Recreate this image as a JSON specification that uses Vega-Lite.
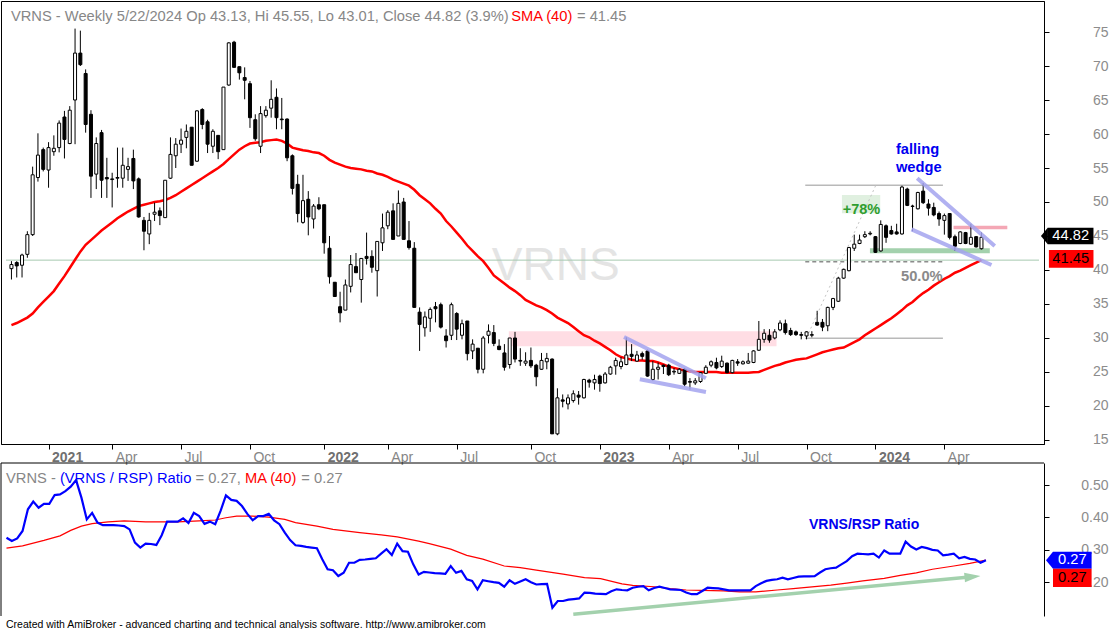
{
  "$schema": "https://vega.github.io/schema/vega-lite/v6.json",
  "padding": 0,
  "background": "white",
  "bounds": "flush",
  "spacing": 19,
  "title": {"text": "Created with AmiBroker - advanced charting and technical analysis software. http://www.amibroker.com", "orient": "bottom", "anchor": "start", "frame": "group", "font": "Liberation Sans", "fontSize": 10.5, "fontWeight": "normal", "color": "black", "offset": 3, "dx": 5},
  "datasets": {
    "bars": [
      {"d":"2020-11-16","o":40.2,"h":41.3,"l":38.6,"c":40.8,"s":31.9,"r":0.337},
      {"d":"2020-11-23","o":41.1,"h":41.3,"l":38.9,"c":40.6,"s":32.2,"r":0.327},
      {"d":"2020-11-30","o":40.7,"h":42.4,"l":38.9,"c":42.2,"s":32.6,"r":0.335},
      {"d":"2020-12-07","o":42.3,"h":45.7,"l":41.8,"c":45.2,"s":33.0,"r":0.358},
      {"d":"2020-12-14","o":45.2,"h":55.2,"l":45.0,"c":54.0,"s":33.6,"r":0.425},
      {"d":"2020-12-21","o":53.6,"h":60.1,"l":53.0,"c":56.9,"s":34.5,"r":0.449},
      {"d":"2020-12-28","o":57.7,"h":58.0,"l":54.5,"c":54.8,"s":35.3,"r":0.430},
      {"d":"2021-01-04","o":54.7,"h":58.8,"l":52.1,"c":58.0,"s":36.1,"r":0.442},
      {"d":"2021-01-11","o":57.4,"h":59.8,"l":56.8,"c":57.9,"s":36.9,"r":0.442},
      {"d":"2021-01-18","o":58.0,"h":62.0,"l":57.3,"c":61.6,"s":38.0,"r":0.469},
      {"d":"2021-01-25","o":62.5,"h":63.4,"l":56.4,"c":59.2,"s":39.1,"r":0.471},
      {"d":"2021-02-01","o":58.6,"h":64.1,"l":58.5,"c":63.5,"s":40.3,"r":0.481},
      {"d":"2021-02-08","o":65.0,"h":75.5,"l":58.5,"c":71.9,"s":41.5,"r":0.495},
      {"d":"2021-02-15","o":71.9,"h":75.2,"l":70.0,"c":70.2,"s":42.7,"r":0.515},
      {"d":"2021-02-22","o":68.9,"h":69.5,"l":60.2,"c":61.4,"s":43.7,"r":0.461},
      {"d":"2021-03-01","o":62.9,"h":63.5,"l":50.6,"c":53.8,"s":44.4,"r":0.394},
      {"d":"2021-03-08","o":54.1,"h":59.5,"l":51.9,"c":58.6,"s":45.1,"r":0.414},
      {"d":"2021-03-15","o":60.2,"h":60.6,"l":50.6,"c":53.2,"s":45.8,"r":0.384},
      {"d":"2021-03-22","o":53.6,"h":56.5,"l":50.6,"c":53.4,"s":46.4,"r":0.376},
      {"d":"2021-03-29","o":53.3,"h":54.3,"l":49.2,"c":53.4,"s":47.0,"r":0.376},
      {"d":"2021-04-05","o":53.5,"h":58.0,"l":52.1,"c":53.6,"s":47.6,"r":0.376},
      {"d":"2021-04-12","o":53.5,"h":58.0,"l":52.1,"c":55.4,"s":48.1,"r":0.375},
      {"d":"2021-04-19","o":54.8,"h":56.5,"l":53.1,"c":55.2,"s":48.6,"r":0.373},
      {"d":"2021-04-26","o":56.4,"h":57.7,"l":51.9,"c":53.1,"s":49.0,"r":0.363},
      {"d":"2021-05-03","o":53.4,"h":53.6,"l":47.7,"c":47.8,"s":49.4,"r":0.322},
      {"d":"2021-05-10","o":47.3,"h":47.8,"l":42.9,"c":45.7,"s":49.6,"r":0.307},
      {"d":"2021-05-17","o":45.3,"h":48.4,"l":43.8,"c":47.3,"s":49.8,"r":0.319},
      {"d":"2021-05-24","o":48.2,"h":49.9,"l":47.2,"c":48.5,"s":50.0,"r":0.318},
      {"d":"2021-05-31","o":48.7,"h":49.2,"l":46.6,"c":48.0,"s":50.1,"r":0.315},
      {"d":"2021-06-07","o":47.7,"h":53.2,"l":47.7,"c":53.2,"s":50.3,"r":0.345},
      {"d":"2021-06-14","o":53.5,"h":59.5,"l":53.4,"c":57.0,"s":50.6,"r":0.387},
      {"d":"2021-06-21","o":56.8,"h":59.4,"l":55.0,"c":58.5,"s":51.0,"r":0.387},
      {"d":"2021-06-28","o":58.5,"h":60.8,"l":57.2,"c":59.1,"s":51.5,"r":0.387},
      {"d":"2021-07-05","o":59.5,"h":61.4,"l":57.9,"c":60.4,"s":52.0,"r":0.397},
      {"d":"2021-07-12","o":61.0,"h":61.0,"l":55.4,"c":55.4,"s":52.5,"r":0.383},
      {"d":"2021-07-19","o":56.0,"h":63.5,"l":55.9,"c":63.4,"s":53.0,"r":0.414},
      {"d":"2021-07-26","o":63.6,"h":63.8,"l":60.7,"c":61.4,"s":53.5,"r":0.404},
      {"d":"2021-08-02","o":61.8,"h":62.1,"l":57.2,"c":58.5,"s":54.0,"r":0.380},
      {"d":"2021-08-09","o":58.2,"h":60.7,"l":57.2,"c":60.4,"s":54.5,"r":0.387},
      {"d":"2021-08-16","o":59.8,"h":59.8,"l":56.3,"c":57.4,"s":55.0,"r":0.379},
      {"d":"2021-08-23","o":57.7,"h":66.9,"l":57.7,"c":66.9,"s":55.6,"r":0.420},
      {"d":"2021-08-30","o":67.2,"h":73.5,"l":67.1,"c":73.4,"s":56.3,"r":0.468},
      {"d":"2021-09-06","o":73.5,"h":73.7,"l":69.8,"c":69.8,"s":57.0,"r":0.454},
      {"d":"2021-09-13","o":69.9,"h":69.9,"l":68.0,"c":69.0,"s":57.7,"r":0.451},
      {"d":"2021-09-20","o":68.3,"h":69.8,"l":65.1,"c":67.9,"s":58.2,"r":0.435},
      {"d":"2021-09-27","o":67.4,"h":67.8,"l":60.9,"c":62.4,"s":58.6,"r":0.411},
      {"d":"2021-10-04","o":62.1,"h":62.9,"l":59.0,"c":59.3,"s":58.7,"r":0.391},
      {"d":"2021-10-11","o":58.2,"h":64.1,"l":57.2,"c":63.0,"s":58.8,"r":0.404},
      {"d":"2021-10-18","o":62.7,"h":64.1,"l":62.4,"c":63.5,"s":59.0,"r":0.404},
      {"d":"2021-10-25","o":63.8,"h":67.9,"l":62.4,"c":65.1,"s":59.1,"r":0.411},
      {"d":"2021-11-01","o":65.4,"h":66.7,"l":60.7,"c":62.4,"s":59.2,"r":0.391},
      {"d":"2021-11-08","o":62.2,"h":65.3,"l":60.7,"c":62.1,"s":59.0,"r":0.379},
      {"d":"2021-11-15","o":62.2,"h":62.3,"l":56.0,"c":56.5,"s":58.6,"r":0.353},
      {"d":"2021-11-22","o":56.8,"h":57.0,"l":51.1,"c":52.0,"s":58.0,"r":0.330},
      {"d":"2021-11-29","o":52.6,"h":54.0,"l":47.0,"c":48.3,"s":57.8,"r":0.314},
      {"d":"2021-12-06","o":47.0,"h":54.0,"l":46.8,"c":50.2,"s":57.6,"r":0.312},
      {"d":"2021-12-13","o":50.4,"h":51.6,"l":45.1,"c":47.8,"s":57.5,"r":0.309},
      {"d":"2021-12-20","o":47.5,"h":49.7,"l":46.1,"c":49.4,"s":57.3,"r":0.307},
      {"d":"2021-12-27","o":49.6,"h":50.7,"l":48.8,"c":49.0,"s":57.2,"r":0.305},
      {"d":"2022-01-03","o":49.6,"h":49.6,"l":42.4,"c":44.0,"s":56.8,"r":0.271},
      {"d":"2022-01-10","o":43.2,"h":45.0,"l":38.0,"c":39.0,"s":56.2,"r":0.240},
      {"d":"2022-01-17","o":38.2,"h":38.2,"l":36.1,"c":36.1,"s":55.8,"r":0.237},
      {"d":"2022-01-24","o":34.6,"h":36.8,"l":32.3,"c":33.7,"s":55.5,"r":0.219},
      {"d":"2022-01-31","o":34.1,"h":38.6,"l":34.1,"c":37.8,"s":55.2,"r":0.229},
      {"d":"2022-02-07","o":37.6,"h":42.2,"l":36.7,"c":40.8,"s":55.0,"r":0.260},
      {"d":"2022-02-14","o":40.5,"h":42.5,"l":39.6,"c":39.6,"s":54.9,"r":0.260},
      {"d":"2022-02-21","o":38.6,"h":41.7,"l":35.2,"c":41.7,"s":54.8,"r":0.269},
      {"d":"2022-02-28","o":42.0,"h":45.5,"l":40.8,"c":41.7,"s":54.6,"r":0.270},
      {"d":"2022-03-07","o":42.0,"h":42.9,"l":39.6,"c":40.4,"s":54.5,"r":0.272},
      {"d":"2022-03-14","o":39.9,"h":44.2,"l":36.1,"c":44.2,"s":54.2,"r":0.274},
      {"d":"2022-03-21","o":44.0,"h":48.3,"l":42.8,"c":46.2,"s":54.0,"r":0.288},
      {"d":"2022-03-28","o":46.5,"h":48.8,"l":46.0,"c":48.5,"s":53.7,"r":0.302},
      {"d":"2022-04-04","o":48.7,"h":49.8,"l":44.5,"c":44.5,"s":53.3,"r":0.284},
      {"d":"2022-04-11","o":45.0,"h":51.7,"l":45.0,"c":49.8,"s":53.0,"r":0.319},
      {"d":"2022-04-18","o":50.0,"h":50.6,"l":44.5,"c":44.5,"s":52.7,"r":0.296},
      {"d":"2022-04-25","o":44.3,"h":47.2,"l":43.0,"c":43.3,"s":52.4,"r":0.294},
      {"d":"2022-05-02","o":43.2,"h":44.1,"l":34.5,"c":34.5,"s":51.8,"r":0.255},
      {"d":"2022-05-09","o":33.8,"h":34.5,"l":28.1,"c":32.0,"s":51.0,"r":0.224},
      {"d":"2022-05-16","o":31.5,"h":33.9,"l":30.2,"c":33.1,"s":50.4,"r":0.232},
      {"d":"2022-05-23","o":32.9,"h":34.5,"l":30.9,"c":34.2,"s":49.8,"r":0.230},
      {"d":"2022-05-30","o":34.6,"h":35.3,"l":32.3,"c":34.3,"s":49.0,"r":0.228},
      {"d":"2022-06-06","o":34.9,"h":35.2,"l":31.4,"c":31.6,"s":48.3,"r":0.227},
      {"d":"2022-06-13","o":30.3,"h":31.3,"l":28.6,"c":29.6,"s":47.2,"r":0.226},
      {"d":"2022-06-20","o":30.4,"h":35.2,"l":29.7,"c":34.9,"s":46.4,"r":0.250},
      {"d":"2022-06-27","o":33.6,"h":33.8,"l":29.7,"c":31.3,"s":45.5,"r":0.229},
      {"d":"2022-07-04","o":30.4,"h":32.7,"l":29.8,"c":32.1,"s":44.6,"r":0.235},
      {"d":"2022-07-11","o":32.5,"h":32.5,"l":26.7,"c":27.7,"s":43.6,"r":0.209},
      {"d":"2022-07-18","o":28.1,"h":29.8,"l":26.9,"c":29.1,"s":42.8,"r":0.204},
      {"d":"2022-07-25","o":28.5,"h":28.5,"l":24.8,"c":25.4,"s":42.0,"r":0.178},
      {"d":"2022-08-01","o":25.4,"h":30.3,"l":24.8,"c":30.0,"s":41.3,"r":0.206},
      {"d":"2022-08-08","o":30.4,"h":32.0,"l":29.2,"c":31.0,"s":40.3,"r":0.203},
      {"d":"2022-08-15","o":30.8,"h":31.9,"l":28.8,"c":29.2,"s":39.2,"r":0.200},
      {"d":"2022-08-22","o":28.8,"h":29.8,"l":28.2,"c":28.3,"s":38.6,"r":0.198},
      {"d":"2022-08-29","o":27.8,"h":29.1,"l":25.2,"c":25.7,"s":38.0,"r":0.186},
      {"d":"2022-09-05","o":26.1,"h":30.0,"l":25.5,"c":30.0,"s":37.4,"r":0.206},
      {"d":"2022-09-12","o":30.0,"h":30.9,"l":26.4,"c":26.9,"s":36.9,"r":0.195},
      {"d":"2022-09-19","o":26.7,"h":28.5,"l":25.9,"c":26.6,"s":36.3,"r":0.202},
      {"d":"2022-09-26","o":26.3,"h":27.9,"l":25.9,"c":26.6,"s":35.6,"r":0.209},
      {"d":"2022-10-03","o":26.7,"h":28.6,"l":25.6,"c":25.9,"s":35.2,"r":0.200},
      {"d":"2022-10-10","o":26.0,"h":26.2,"l":22.9,"c":24.3,"s":34.8,"r":0.193},
      {"d":"2022-10-17","o":25.4,"h":27.8,"l":25.3,"c":26.7,"s":34.5,"r":0.194},
      {"d":"2022-10-24","o":26.5,"h":27.8,"l":25.4,"c":27.0,"s":34.1,"r":0.195},
      {"d":"2022-10-31","o":26.9,"h":27.0,"l":15.9,"c":15.9,"s":33.6,"r":0.121},
      {"d":"2022-11-07","o":15.9,"h":22.6,"l":15.7,"c":21.2,"s":33.0,"r":0.142},
      {"d":"2022-11-14","o":20.9,"h":21.7,"l":19.8,"c":20.7,"s":32.6,"r":0.142},
      {"d":"2022-11-21","o":20.3,"h":21.7,"l":19.5,"c":21.2,"s":32.2,"r":0.146},
      {"d":"2022-11-28","o":20.8,"h":22.3,"l":20.5,"c":21.8,"s":31.6,"r":0.148},
      {"d":"2022-12-05","o":21.6,"h":22.2,"l":20.2,"c":21.3,"s":31.0,"r":0.150},
      {"d":"2022-12-12","o":21.2,"h":24.0,"l":21.1,"c":23.9,"s":30.4,"r":0.168},
      {"d":"2022-12-19","o":23.8,"h":24.0,"l":22.7,"c":23.5,"s":30.1,"r":0.167},
      {"d":"2022-12-26","o":23.4,"h":24.6,"l":22.4,"c":23.9,"s":29.6,"r":0.165},
      {"d":"2023-01-02","o":24.4,"h":24.6,"l":22.1,"c":23.3,"s":29.2,"r":0.164},
      {"d":"2023-01-09","o":23.4,"h":25.0,"l":23.3,"c":24.7,"s":28.7,"r":0.163},
      {"d":"2023-01-16","o":24.7,"h":25.9,"l":24.6,"c":25.7,"s":28.2,"r":0.172},
      {"d":"2023-01-23","o":25.9,"h":27.1,"l":24.6,"c":26.7,"s":27.6,"r":0.178},
      {"d":"2023-01-30","o":25.8,"h":27.2,"l":25.4,"c":26.5,"s":27.2,"r":0.176},
      {"d":"2023-02-06","o":26.1,"h":30.1,"l":26.0,"c":27.5,"s":27.0,"r":0.175},
      {"d":"2023-02-13","o":27.6,"h":29.1,"l":26.6,"c":27.3,"s":26.8,"r":0.183},
      {"d":"2023-02-20","o":26.6,"h":28.1,"l":26.5,"c":27.5,"s":26.7,"r":0.186},
      {"d":"2023-02-27","o":27.7,"h":28.0,"l":26.8,"c":27.3,"s":26.7,"r":0.188},
      {"d":"2023-03-06","o":28.1,"h":28.3,"l":24.3,"c":24.4,"s":26.6,"r":0.175},
      {"d":"2023-03-13","o":23.9,"h":26.6,"l":23.7,"c":25.4,"s":26.6,"r":0.182},
      {"d":"2023-03-20","o":25.4,"h":26.4,"l":23.9,"c":25.7,"s":26.4,"r":0.186},
      {"d":"2023-03-27","o":26.0,"h":26.1,"l":24.7,"c":25.8,"s":26.1,"r":0.182},
      {"d":"2023-04-03","o":26.0,"h":26.2,"l":24.4,"c":24.6,"s":25.8,"r":0.178},
      {"d":"2023-04-10","o":25.0,"h":25.6,"l":24.6,"c":25.1,"s":25.6,"r":0.177},
      {"d":"2023-04-17","o":24.8,"h":25.6,"l":24.7,"c":25.4,"s":25.4,"r":0.176},
      {"d":"2023-04-24","o":25.4,"h":25.6,"l":22.9,"c":23.2,"s":25.2,"r":0.168},
      {"d":"2023-05-01","o":23.6,"h":24.1,"l":22.4,"c":23.5,"s":25.1,"r":0.163},
      {"d":"2023-05-08","o":23.4,"h":24.1,"l":23.1,"c":23.7,"s":25.0,"r":0.163},
      {"d":"2023-05-15","o":23.6,"h":25.0,"l":23.4,"c":24.9,"s":25.0,"r":0.173},
      {"d":"2023-05-22","o":24.8,"h":26.0,"l":24.7,"c":25.7,"s":25.0,"r":0.183},
      {"d":"2023-05-29","o":26.0,"h":26.7,"l":25.7,"c":26.5,"s":25.0,"r":0.182},
      {"d":"2023-06-05","o":26.4,"h":27.1,"l":25.4,"c":25.6,"s":25.0,"r":0.181},
      {"d":"2023-06-12","o":25.8,"h":27.4,"l":25.6,"c":26.6,"s":24.9,"r":0.178},
      {"d":"2023-06-19","o":26.3,"h":26.4,"l":24.8,"c":24.9,"s":24.9,"r":0.175},
      {"d":"2023-06-26","o":24.9,"h":26.8,"l":24.8,"c":26.7,"s":24.9,"r":0.175},
      {"d":"2023-07-03","o":26.5,"h":26.9,"l":25.9,"c":26.3,"s":24.9,"r":0.175},
      {"d":"2023-07-10","o":26.2,"h":26.7,"l":26.1,"c":26.5,"s":24.9,"r":0.175},
      {"d":"2023-07-17","o":26.3,"h":27.8,"l":26.2,"c":26.6,"s":24.9,"r":0.175},
      {"d":"2023-07-24","o":26.4,"h":28.2,"l":26.3,"c":28.1,"s":24.95,"r":0.188},
      {"d":"2023-07-31","o":28.2,"h":32.5,"l":28.1,"c":29.8,"s":25.0,"r":0.197},
      {"d":"2023-08-07","o":29.8,"h":31.3,"l":29.3,"c":30.7,"s":25.3,"r":0.204},
      {"d":"2023-08-14","o":30.4,"h":31.3,"l":29.3,"c":29.7,"s":25.6,"r":0.207},
      {"d":"2023-08-21","o":30.0,"h":31.3,"l":29.8,"c":30.9,"s":25.9,"r":0.209},
      {"d":"2023-08-28","o":31.2,"h":32.6,"l":31.0,"c":32.2,"s":26.1,"r":0.214},
      {"d":"2023-09-04","o":32.1,"h":32.7,"l":30.5,"c":30.8,"s":26.4,"r":0.209},
      {"d":"2023-09-11","o":31.1,"h":31.5,"l":30.3,"c":30.5,"s":26.6,"r":0.213},
      {"d":"2023-09-18","o":30.9,"h":31.1,"l":30.3,"c":30.5,"s":26.8,"r":0.217},
      {"d":"2023-09-25","o":30.5,"h":30.9,"l":29.8,"c":30.4,"s":26.9,"r":0.218},
      {"d":"2023-10-02","o":30.3,"h":31.0,"l":29.8,"c":30.9,"s":27.0,"r":0.218},
      {"d":"2023-10-09","o":30.4,"h":31.0,"l":30.1,"c":30.5,"s":27.3,"r":0.219},
      {"d":"2023-10-16","o":32.3,"h":34.0,"l":31.8,"c":31.9,"s":27.6,"r":0.230},
      {"d":"2023-10-23","o":32.3,"h":32.8,"l":31.0,"c":31.6,"s":27.9,"r":0.240},
      {"d":"2023-10-30","o":31.8,"h":34.6,"l":31.0,"c":34.5,"s":28.1,"r":0.243},
      {"d":"2023-11-06","o":34.5,"h":35.9,"l":34.1,"c":35.8,"s":28.3,"r":0.245},
      {"d":"2023-11-13","o":35.4,"h":39.0,"l":35.3,"c":38.8,"s":28.5,"r":0.255},
      {"d":"2023-11-20","o":38.8,"h":40.2,"l":38.7,"c":40.1,"s":28.6,"r":0.265},
      {"d":"2023-11-27","o":39.9,"h":43.4,"l":39.8,"c":43.3,"s":29.0,"r":0.280},
      {"d":"2023-12-04","o":43.2,"h":45.2,"l":42.8,"c":43.8,"s":29.4,"r":0.288},
      {"d":"2023-12-11","o":43.9,"h":45.2,"l":43.8,"c":44.4,"s":29.8,"r":0.287},
      {"d":"2023-12-18","o":44.9,"h":45.7,"l":44.7,"c":45.2,"s":30.4,"r":0.286},
      {"d":"2023-12-25","o":45.3,"h":45.7,"l":45.1,"c":45.4,"s":30.9,"r":0.288},
      {"d":"2024-01-01","o":44.9,"h":45.0,"l":42.5,"c":42.6,"s":31.4,"r":0.276},
      {"d":"2024-01-08","o":42.8,"h":47.3,"l":42.7,"c":46.7,"s":31.9,"r":0.298},
      {"d":"2024-01-15","o":46.5,"h":46.7,"l":44.0,"c":44.8,"s":32.4,"r":0.288},
      {"d":"2024-01-22","o":45.8,"h":46.5,"l":45.2,"c":45.3,"s":32.9,"r":0.288},
      {"d":"2024-01-29","o":45.6,"h":46.8,"l":45.2,"c":45.3,"s":33.5,"r":0.288},
      {"d":"2024-02-05","o":45.3,"h":52.4,"l":45.2,"c":52.2,"s":34.1,"r":0.325},
      {"d":"2024-02-12","o":51.9,"h":52.1,"l":49.4,"c":49.5,"s":34.8,"r":0.310},
      {"d":"2024-02-19","o":49.4,"h":49.6,"l":45.7,"c":49.35,"s":35.3,"r":0.301},
      {"d":"2024-02-26","o":49.0,"h":51.5,"l":48.9,"c":51.4,"s":36.0,"r":0.309},
      {"d":"2024-03-04","o":51.6,"h":52.8,"l":49.7,"c":49.9,"s":36.6,"r":0.305},
      {"d":"2024-03-11","o":49.7,"h":50.4,"l":48.0,"c":49.1,"s":37.1,"r":0.300},
      {"d":"2024-03-18","o":49.2,"h":49.9,"l":47.9,"c":48.1,"s":37.7,"r":0.298},
      {"d":"2024-03-25","o":48.3,"h":48.6,"l":46.5,"c":47.5,"s":38.2,"r":0.283},
      {"d":"2024-04-01","o":47.3,"h":48.3,"l":45.2,"c":48.0,"s":38.7,"r":0.285},
      {"d":"2024-04-08","o":48.3,"h":48.3,"l":44.5,"c":44.8,"s":39.1,"r":0.288},
      {"d":"2024-04-15","o":44.9,"h":45.2,"l":42.8,"c":43.5,"s":39.6,"r":0.274},
      {"d":"2024-04-22","o":43.9,"h":45.7,"l":43.8,"c":45.6,"s":39.9,"r":0.278},
      {"d":"2024-04-29","o":45.5,"h":45.6,"l":43.8,"c":43.9,"s":40.3,"r":0.272},
      {"d":"2024-05-06","o":43.8,"h":46.8,"l":43.7,"c":44.8,"s":40.7,"r":0.270},
      {"d":"2024-05-13","o":44.9,"h":45.0,"l":43.3,"c":43.4,"s":41.1,"r":0.260},
      {"d":"2024-05-20","o":43.13,"h":45.55,"l":43.01,"c":44.82,"s":41.45,"r":0.268}
    ],
    "rma": [
      {"d":"2020-11-16","p":0.305},{"d":"2020-12-07","p":0.312},{"d":"2021-01-04","p":0.329},{"d":"2021-01-25","p":0.343},
      {"d":"2021-02-08","p":0.360},{"d":"2021-02-22","p":0.373},{"d":"2021-03-08","p":0.381},{"d":"2021-03-29","p":0.386},
      {"d":"2021-04-19","p":0.389},{"d":"2021-05-17","p":0.386},{"d":"2021-06-07","p":0.386},{"d":"2021-06-28","p":0.386},
      {"d":"2021-07-26","p":0.389},{"d":"2021-08-16","p":0.392},{"d":"2021-08-30","p":0.399},{"d":"2021-09-13","p":0.404},
      {"d":"2021-10-04","p":0.404},{"d":"2021-10-25","p":0.401},{"d":"2021-11-15","p":0.394},{"d":"2021-11-29","p":0.384},
      {"d":"2021-12-27","p":0.373},{"d":"2022-01-17","p":0.363},{"d":"2022-02-21","p":0.353},{"d":"2022-03-21","p":0.346},
      {"d":"2022-04-11","p":0.340},{"d":"2022-05-09","p":0.327},{"d":"2022-05-23","p":0.319},{"d":"2022-06-20","p":0.302},
      {"d":"2022-07-11","p":0.283},{"d":"2022-08-01","p":0.271},{"d":"2022-08-29","p":0.250},{"d":"2022-09-19","p":0.245},
      {"d":"2022-10-10","p":0.237},{"d":"2022-11-14","p":0.225},{"d":"2022-12-12","p":0.214},{"d":"2023-01-02","p":0.211},
      {"d":"2023-01-30","p":0.195},{"d":"2023-02-13","p":0.190},{"d":"2023-03-13","p":0.186},{"d":"2023-04-03","p":0.180},
      {"d":"2023-04-24","p":0.176},{"d":"2023-05-15","p":0.175},{"d":"2023-06-12","p":0.173},{"d":"2023-07-03","p":0.170},
      {"d":"2023-07-24","p":0.170},{"d":"2023-08-21","p":0.176},{"d":"2023-09-11","p":0.180},{"d":"2023-10-02","p":0.185},
      {"d":"2023-10-30","p":0.191},{"d":"2023-11-20","p":0.197},{"d":"2023-12-11","p":0.204},{"d":"2024-01-08","p":0.212},
      {"d":"2024-01-29","p":0.221},{"d":"2024-02-19","p":0.229},{"d":"2024-03-11","p":0.240},{"d":"2024-04-08","p":0.250},
      {"d":"2024-04-29","p":0.258},{"d":"2024-05-20","p":0.268}
    ]
  },
  "vconcat": [
    {
      "width": 1043,
      "height": 443,
      "encoding": {
        "x": {
          "field": "d", "type": "temporal",
          "scale": {"domain": [{"year": 2020, "month": 11, "date": 8, "hours": 19, "minutes": 26}, {"year": 2024, "month": 8, "date": 3, "hours": 23, "minutes": 30}]},
          "axis": {
            "title": null, "grid": false,
            "values": [{"year": 2021, "month": 1, "date": 4}, {"year": 2021, "month": 3, "date": 29}, {"year": 2021, "month": 6, "date": 28}, {"year": 2021, "month": 9, "date": 27}, {"year": 2022, "month": 1, "date": 3}, {"year": 2022, "month": 3, "date": 28}, {"year": 2022, "month": 6, "date": 27}, {"year": 2022, "month": 10, "date": 3}, {"year": 2023, "month": 1, "date": 2}, {"year": 2023, "month": 4, "date": 3}, {"year": 2023, "month": 7, "date": 3}, {"year": 2023, "month": 10, "date": 2}, {"year": 2024, "month": 1, "date": 1}, {"year": 2024, "month": 4, "date": 1}],
            "labelExpr": "month(time(datum.value) + 345600000) == 0 ? timeFormat(time(datum.value) + 345600000, '%Y') : timeFormat(time(datum.value) + 345600000, '%b')",
            "labelFont": "Liberation Sans", "labelFontSize": 14,
            "labelFontWeight": {"condition": {"test": "month(time(datum.value) + 345600000) == 0", "value": "bold"}, "value": "normal"},
            "labelColor": {"condition": {"test": "month(time(datum.value) + 345600000) == 0", "value": "#707070"}, "value": "#868686"},
            "labelAlign": "left", "labelBaseline": "top", "labelOffset": 3, "labelPadding": 1,
            "labelOverlap": false, "labelBound": false, "labelFlush": false,
            "tickSize": 5, "tickColor": "black", "domainColor": "black"
          }
        },
        "y": {
          "field": "p", "type": "quantitative",
          "scale": {"domain": [14.41, 79.56], "nice": false, "zero": false},
          "axis": {
            "orient": "right", "title": null, "grid": false,
            "values": [15, 20, 25, 30, 35, 40, 45, 50, 55, 60, 65, 70, 75],
            "labelFont": "Liberation Sans", "labelFontSize": 14, "labelColor": "#8c8c8c",
            "labelAlign": "right", "labelBaseline": "middle", "labelPadding": 59,
            "labelBound": false, "labelFlush": false, "labelOverlap": false,
            "tickSize": 5, "tickColor": "black", "domainColor": "black"
          }
        }
      },
      "layer": [
        {
          "data": {"values": [{"d": "2022-11-04T17:00", "p": 40.59, "t": "VRNS"}]},
          "mark": {"type": "text", "font": "Liberation Sans", "fontSize": 46, "color": "#e4e4e4", "align": "center", "baseline": "middle"},
          "encoding": {"text": {"field": "t"}}
        },
        {
          "data": {"values": [{"d": "2022-09-03T20:00", "d2": "2023-08-23T09:00", "p": 28.8, "p2": 31.0}]},
          "mark": {"type": "rect", "color": "#ffdde4"},
          "encoding": {"x2": {"field": "d2"}, "y2": {"field": "p2"}}
        },
        {
          "data": {"values": [{"d": "2023-12-24T17:00", "d2": "2024-05-31T00:00", "p": 42.45, "p2": 43.19}]},
          "mark": {"type": "rect", "color": "#a3d1ad"},
          "encoding": {"x2": {"field": "d2"}, "y2": {"field": "p2"}}
        },
        {
          "data": {"values": [{"d": "2023-11-17T17:00", "d2": "2024-01-07T08:00", "p": 48.34, "p2": 51.03}]},
          "mark": {"type": "rect", "color": "#e0f0e0"},
          "encoding": {"x2": {"field": "d2"}, "y2": {"field": "p2"}}
        },
        {
          "data": {"values": [{"d": "2020-11-08T19:26", "d2": "2024-08-03T23:30", "p": 41.45}]},
          "mark": {"type": "rule", "color": "#a6c9b0", "strokeWidth": 1},
          "encoding": {"x2": {"field": "d2"}}
        },
        {
          "data": {"values": [{"d": "2023-09-30T07:30", "d2": "2024-03-30T02:00", "p": 52.45}, {"d": "2023-09-30T07:30", "d2": "2024-03-30T02:00", "p": 29.95}]},
          "mark": {"type": "rule", "color": "#b9b9b9", "strokeWidth": 1.5},
          "encoding": {"x2": {"field": "d2"}}
        },
        {
          "data": {"values": [{"d": "2023-09-30T07:30", "d2": "2024-03-30T02:00", "p": 41.2}]},
          "mark": {"type": "rule", "color": "#8c8c8c", "strokeWidth": 1.5, "strokeDash": [4, 3]},
          "encoding": {"x2": {"field": "d2"}}
        },
        {
          "data": {"values": [{"d": "2023-10-02T00:00", "p": 30.05, "d2": "2024-01-01T15:00", "p2": 52.5}]},
          "mark": {"type": "rule", "color": "#c4c4c4", "strokeWidth": 1, "strokeDash": [2, 3]},
          "encoding": {"x2": {"field": "d2"}, "y2": {"field": "p2"}}
        },
        {
          "data": {"name": "bars"},
          "mark": {"type": "line", "color": "#ff0000", "strokeWidth": 2.5},
          "encoding": {
            "y": {"field": "s", "type": "quantitative", "scale": {"domain": [14.41, 79.56], "nice": false, "zero": false}}
          }
        },
        {
          "data": {"values": [{"d": "2024-04-13T03:00", "d2": "2024-06-23T03:00", "p": 46.25}]},
          "mark": {"type": "rule", "color": "#f4a7b5", "strokeWidth": 3.5},
          "encoding": {"x2": {"field": "d2"}}
        },
        {
          "data": {"name": "bars"},
          "mark": {"type": "rule", "color": "black", "strokeWidth": 1},
          "encoding": {
            "y": {"field": "l", "type": "quantitative", "scale": {"domain": [14.41, 79.56], "nice": false, "zero": false}},
            "y2": {"field": "h"}
          }
        },
        {
          "data": {"name": "bars"},
          "mark": {"type": "bar", "size": 3, "stroke": "black", "strokeWidth": 1},
          "encoding": {
            "y": {"field": "o", "type": "quantitative", "scale": {"domain": [14.41, 79.56], "nice": false, "zero": false}},
            "y2": {"field": "c"},
            "fill": {"condition": {"test": "datum.c < datum.o", "value": "black"}, "value": "white"}
          }
        },
        {
          "data": {"values": [
            {"d": "2023-02-02T23:00", "p": 30.15, "d2": "2023-05-22T03:00", "p2": 24.07},
            {"d": "2023-02-23T21:00", "p": 23.92, "d2": "2023-05-22T03:00", "p2": 22.06},
            {"d": "2024-02-25T03:00", "p": 53.48, "d2": "2024-06-06T12:30", "p2": 43.53},
            {"d": "2024-02-17T15:30", "p": 45.98, "d2": "2024-06-02T05:00", "p2": 40.74}
          ]},
          "mark": {"type": "rule", "color": "#a3a3ef", "opacity": 0.85, "strokeWidth": 4},
          "encoding": {"x2": {"field": "d2"}, "y2": {"field": "p2"}}
        },
        {
          "data": {"values": [{"d": "2023-12-13T14:00", "p": 48.82, "t": "+78%"}]},
          "mark": {"type": "text", "font": "Liberation Sans", "fontSize": 14.5, "fontWeight": "bold", "color": "#2f9d2f", "align": "center"},
          "encoding": {"text": {"field": "t"}}
        },
        {
          "data": {"values": [{"d": "2024-03-29T17:00", "p": 38.97, "t": "50.0%"}]},
          "mark": {"type": "text", "font": "Liberation Sans", "fontSize": 14.7, "fontWeight": "bold", "color": "#8a8a8a", "align": "right"},
          "encoding": {"text": {"field": "t"}}
        },
        {
          "data": {"values": [{"d": "2024-01-28T00:00", "p": 57.72, "t": "falling"}, {"d": "2024-01-28T00:00", "p": 55.07, "t": "wedge"}]},
          "mark": {"type": "text", "font": "Liberation Sans", "fontSize": 14.7, "fontWeight": "bold", "color": "#0000f0", "align": "left"},
          "encoding": {"text": {"field": "t"}}
        },
        {
          "data": {"values": [{"d": "2020-11-15T08:30", "p": 77.2, "t": "VRNS - Weekly 5/22/2024 Op 43.13, Hi 45.55, Lo 43.01, Close 44.82 (3.9%)"}, {"d": "2022-12-02T20:00", "p": 77.2, "t": "= 41.45"}]},
          "mark": {"type": "text", "font": "Liberation Sans", "fontSize": 14.7, "color": "#878787", "align": "left"},
          "encoding": {"text": {"field": "t"}}
        },
        {
          "data": {"values": [{"d": "2022-09-06T21:00", "p": 77.2, "t": "SMA (40)"}]},
          "mark": {"type": "text", "font": "Liberation Sans", "fontSize": 14.7, "color": "#ff0000", "align": "left"},
          "encoding": {"text": {"field": "t"}}
        },
        {
          "data": {"values": [{"d": "2024-08-15T18:00", "d2": "2024-10-14T22:00", "p": 43.78, "p2": 46.22}]},
          "mark": {"type": "rect", "color": "black"},
          "encoding": {"x2": {"field": "d2"}, "y2": {"field": "p2"}}
        },
        {
          "data": {"values": [{"d": "2024-08-17T01:30", "d2": "2024-10-14T22:00", "p": 40.34, "p2": 42.94}]},
          "mark": {"type": "rect", "color": "#ff0000"},
          "encoding": {"x2": {"field": "d2"}, "y2": {"field": "p2"}}
        },
        {
          "data": {"values": [{"d": "2024-08-11T04:00", "p": 45.0}]},
          "mark": {"type": "point", "shape": "M-0.41,0L0.41,-1L0.41,1Z", "size": 289, "filled": true, "color": "black", "opacity": 1, "strokeWidth": 0},
          "encoding": {}
        },
        {
          "data": {"values": [{"d": "2024-09-14T20:00", "p": 45.0, "t": "44.82"}]},
          "mark": {"type": "text", "font": "Liberation Sans", "fontSize": 14.7, "color": "white", "align": "center", "baseline": "middle"},
          "encoding": {"text": {"field": "t"}}
        },
        {
          "data": {"values": [{"d": "2024-09-14T20:00", "p": 41.64, "t": "41.45"}]},
          "mark": {"type": "text", "font": "Liberation Sans", "fontSize": 14.7, "color": "black", "align": "center", "baseline": "middle"},
          "encoding": {"text": {"field": "t"}}
        }
      ]
    },
    {
      "width": 1043,
      "height": 153,
      "view": {"stroke": null},
      "encoding": {
        "x": {"field": "d", "type": "temporal", "scale": {"domain": [{"year": 2020, "month": 11, "date": 8, "hours": 19, "minutes": 26}, {"year": 2024, "month": 8, "date": 3, "hours": 23, "minutes": 30}]}, "axis": null},
        "y": {
          "field": "p", "type": "quantitative",
          "scale": {"domain": [0.0957, 0.5679], "nice": false, "zero": false},
          "axis": {
            "orient": "right", "title": null, "grid": false,
            "values": [0.2, 0.3, 0.4, 0.5], "format": ".2f",
            "labelFont": "Liberation Sans", "labelFontSize": 14, "labelColor": "#8c8c8c",
            "labelAlign": "right", "labelBaseline": "middle", "labelPadding": 59,
            "labelBound": false, "labelFlush": false, "labelOverlap": false,
            "tickSize": 5, "tickColor": "black", "domainColor": "black"
          }
        }
      },
      "layer": [
        {
          "data": {"values": [{"d": "2020-11-08T19:26", "p": 0.0957, "p2": 0.5679}]},
          "mark": {"type": "rule", "color": "black", "strokeWidth": 1},
          "encoding": {"y2": {"field": "p2"}}
        },
        {
          "data": {"values": [{"d": "2020-11-08T19:26", "d2": "2024-08-03T23:30", "p": 0.5679}]},
          "mark": {"type": "rule", "color": "black", "strokeWidth": 1},
          "encoding": {"x2": {"field": "d2"}}
        },
        {
          "data": {"name": "rma"},
          "mark": {"type": "line", "color": "#ff0000", "strokeWidth": 1.2}
        },
        {
          "data": {"name": "bars"},
          "mark": {"type": "line", "color": "#0000ff", "strokeWidth": 2.2},
          "encoding": {
            "y": {"field": "r", "type": "quantitative", "scale": {"domain": [0.0957, 0.5679], "nice": false, "zero": false}}
          }
        },
        {
          "data": {"values": [{"d": "2022-11-27T08:00", "p": 0.101, "d2": "2024-04-25T06:30", "p2": 0.2152}]},
          "mark": {"type": "rule", "color": "#a3d1ad", "strokeWidth": 3.5},
          "encoding": {"x2": {"field": "d2"}, "y2": {"field": "p2"}}
        },
        {
          "data": {"values": [{"d": "2024-05-02T11:00", "p": 0.2168}]},
          "mark": {"type": "point", "shape": "M-1,-0.6L1,0L-1,0.6Z", "size": 256, "filled": true, "color": "#a3d1ad", "angle": -5.4, "opacity": 1, "strokeWidth": 0},
          "encoding": {}
        },
        {
          "data": {"values": [{"d": "2023-10-01T15:00", "p": 0.3765, "t": "VRNS/RSP Ratio"}]},
          "mark": {"type": "text", "font": "Liberation Sans", "fontSize": 14, "fontWeight": "bold", "color": "#0000f0", "align": "left"},
          "encoding": {"text": {"field": "t"}}
        },
        {
          "data": {"values": [{"d": "2020-11-15T08:30", "p": 0.5185, "t": "VRNS -"}, {"d": "2021-07-21T05:00", "p": 0.5185, "t": "= 0.27,"}, {"d": "2021-12-06T14:00", "p": 0.5185, "t": "= 0.27"}]},
          "mark": {"type": "text", "font": "Liberation Sans", "fontSize": 14.7, "color": "#878787", "align": "left"},
          "encoding": {"text": {"field": "t"}}
        },
        {
          "data": {"values": [{"d": "2021-01-24T20:30", "p": 0.5185, "t": "(VRNS / RSP) Ratio"}]},
          "mark": {"type": "text", "font": "Liberation Sans", "fontSize": 14.7, "color": "#0000ff", "align": "left"},
          "encoding": {"text": {"field": "t"}}
        },
        {
          "data": {"values": [{"d": "2021-09-23T19:30", "p": 0.5185, "t": "MA (40)"}]},
          "mark": {"type": "text", "font": "Liberation Sans", "fontSize": 14.7, "color": "#ff0000", "align": "left"},
          "encoding": {"text": {"field": "t"}}
        },
        {
          "data": {"values": [{"d": "2024-08-15T18:00", "d2": "2024-10-05T06:00", "p": 0.2417, "p2": 0.2941}]},
          "mark": {"type": "rect", "color": "#0000ff"},
          "encoding": {"x2": {"field": "d2"}, "y2": {"field": "p2"}}
        },
        {
          "data": {"values": [{"d": "2024-08-15T18:00", "d2": "2024-10-05T06:00", "p": 0.1852, "p2": 0.2417}]},
          "mark": {"type": "rect", "color": "#ff0000"},
          "encoding": {"x2": {"field": "d2"}, "y2": {"field": "p2"}}
        },
        {
          "data": {"values": [{"d": "2024-08-11T04:00", "p": 0.2679}]},
          "mark": {"type": "point", "shape": "M-0.41,0L0.41,-1L0.41,1Z", "size": 289, "filled": true, "color": "#0000ff", "opacity": 1, "strokeWidth": 0},
          "encoding": {}
        },
        {
          "data": {"values": [{"d": "2024-09-10T00:00", "p": 0.2679, "t": "0.27"}]},
          "mark": {"type": "text", "font": "Liberation Sans", "fontSize": 14.7, "color": "white", "align": "center", "baseline": "middle"},
          "encoding": {"text": {"field": "t"}}
        },
        {
          "data": {"values": [{"d": "2024-09-10T00:00", "p": 0.2135, "t": "0.27"}]},
          "mark": {"type": "text", "font": "Liberation Sans", "fontSize": 14.7, "color": "black", "align": "center", "baseline": "middle"},
          "encoding": {"text": {"field": "t"}}
        }
      ]
    }
  ],
  "config": {
    "view": {"stroke": "black", "strokeWidth": 1},
    "text": {"font": "Liberation Sans"},
    "axis": {"labelFont": "Liberation Sans"}
  }
}
